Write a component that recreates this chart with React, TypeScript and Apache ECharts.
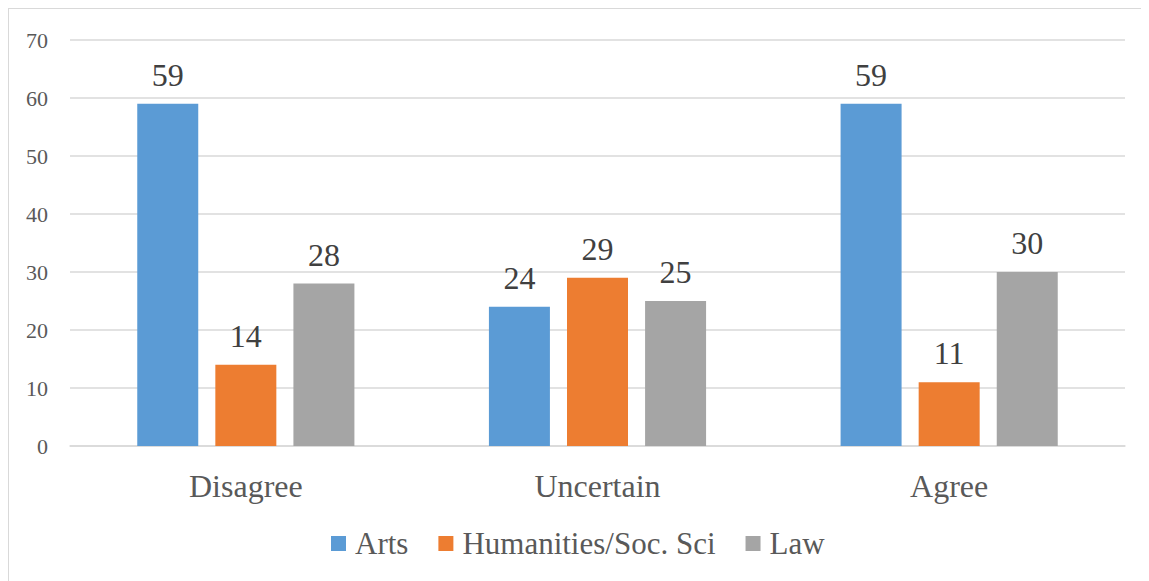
import React, { useEffect, useRef } from "react";
import * as echarts from "echarts";

const categories = ["Disagree", "Uncertain", "Agree"];
const seriesNames = ["Arts", "Humanities/Soc. Sci", "Law"];
const arts = [59, 24, 59];
const humanities = [14, 29, 11];
const law = [28, 25, 30];
const colors = ["#5B9BD5", "#ED7D31", "#A5A5A5"];
const yTicks = [0, 10, 20, 30, 40, 50, 60, 70];

const FONT = "Times New Roman, Liberation Serif, serif";

export default function App() {
  const ref = useRef<HTMLDivElement>(null);
  useEffect(() => {
    if (!ref.current) return;
    const chart = echarts.init(ref.current, undefined, { renderer: "svg" });
    const data = [arts, humanities, law];
    chart.setOption({
      animation: false,
      textStyle: { fontFamily: FONT },
      grid: { left: 61, right: 24, top: 31, bottom: 135, containLabel: false },
      legend: {
        data: seriesNames,
        left: 317,
        top: 514,
        itemWidth: 15,
        itemHeight: 15,
        itemGap: 30,
        icon: "rect",
        textStyle: { fontFamily: FONT, fontSize: 31, color: "#595959", padding: [0, 0, 0, 4] },
      },
      xAxis: {
        type: "category",
        data: categories,
        axisLine: { show: true, lineStyle: { color: "#D9D9D9", width: 1.5 } },
        axisTick: { show: false },
        axisLabel: { fontFamily: FONT, fontSize: 32, color: "#595959", margin: 24 },
      },
      yAxis: {
        type: "value",
        min: yTicks[0],
        max: yTicks[yTicks.length - 1],
        interval: 10,
        axisLine: { show: false },
        axisTick: { show: false },
        splitLine: { lineStyle: { color: "#D9D9D9", width: 1.5 } },
        axisLabel: { fontFamily: FONT, fontSize: 22, color: "#595959", margin: 22 },
      },
      series: seriesNames.map((name, i) => ({
        name,
        type: "bar",
        data: data[i],
        barWidth: 61,
        barGap: "28%",
        itemStyle: { color: colors[i] },
        label: {
          show: true,
          position: "top",
          distance: 13,
          fontFamily: FONT,
          fontSize: 32,
          color: "#404040",
        },
      })),
    });
    return () => chart.dispose();
  }, []);
  return (
    <div
      style={{
        width: 1141,
        height: 573,
        borderTop: "1px solid #D9D9D9",
        borderLeft: "1px solid #D9D9D9",
        boxSizing: "border-box",
        overflow: "hidden",
      }}
    >
      <div ref={ref} style={{ width: 1140, height: 572 }} />
    </div>
  );
}
